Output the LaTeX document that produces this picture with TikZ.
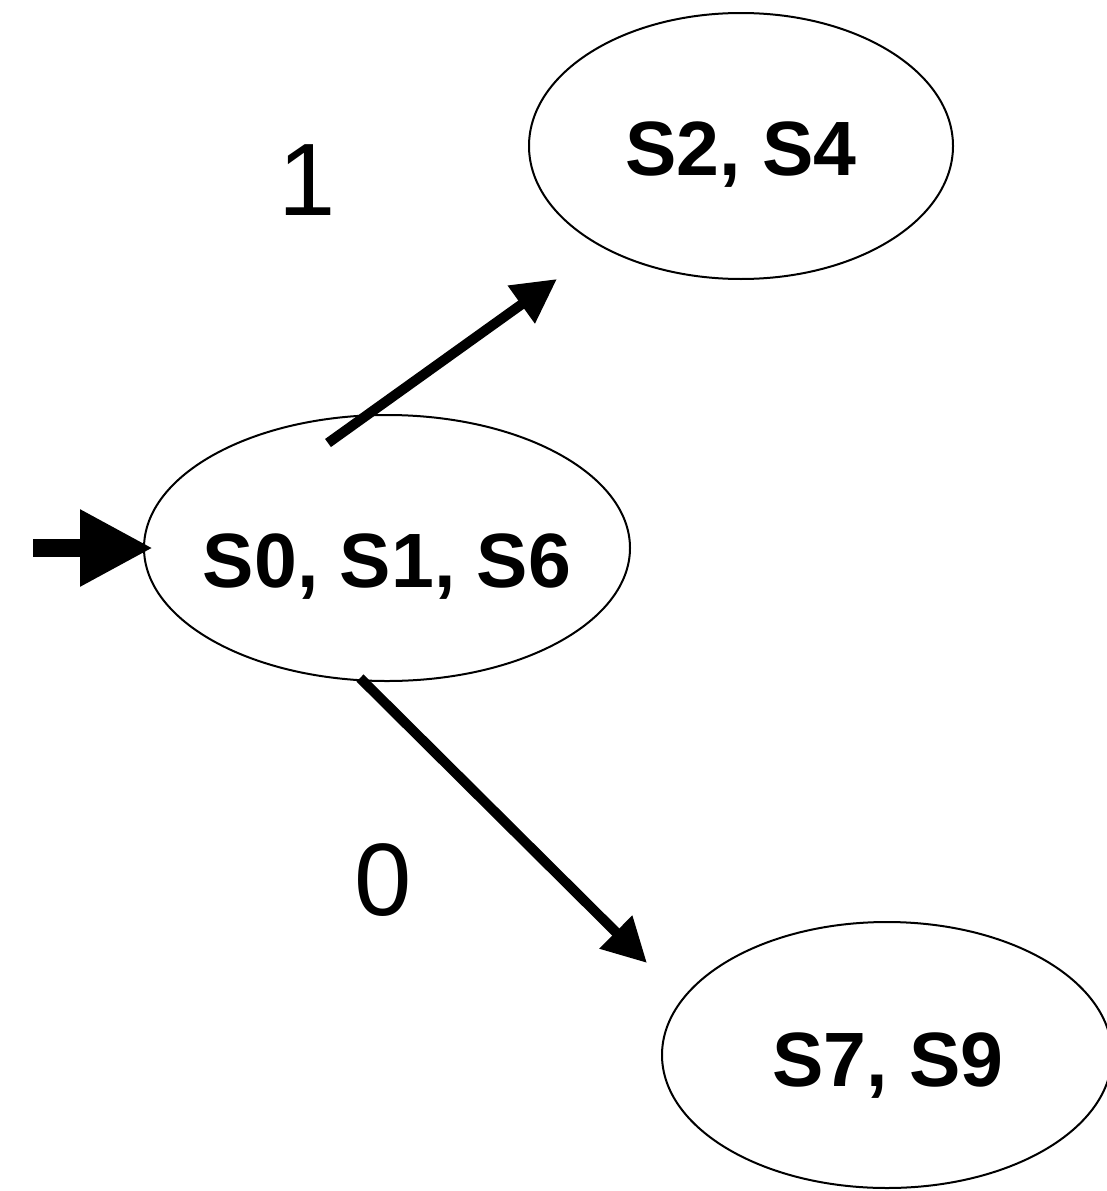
\documentclass[tikz,border=0pt]{standalone}
\usepackage{fontspec}
\setmainfont{Liberation Sans}
\usetikzlibrary{shapes.geometric,arrows.meta}

\tikzset{
  state/.style={draw, ellipse, line width=2pt, inner sep=0pt},
  statename/.style={font=\fontsize{77}{80}\selectfont\bfseries, text height=55pt, text depth=0pt, inner sep=0pt},
  edge/.style={line width=10pt, -{Triangle[length=44pt,width=44pt]}},
  sym/.style={font=\fontsize{103}{110}\selectfont}
}

\begin{document}
\begin{tikzpicture}[x=1pt, y=-1pt]

\useasboundingbox (0, 0) rectangle (1106, 1191);

\node[state, minimum width=424pt, minimum height=266pt] (s24) at (741, 146) {};
\node[state, minimum width=486pt, minimum height=266pt] (s016) at (387, 548) {};
\node[state, minimum width=450pt, minimum height=266pt] (s79) at (887, 1055) {};

\node[statename] (s24name) at (741, 148) {S2, S4};
\node[statename] (s016name) at (387, 560) {S0, S1, S6};
\node[statename] (s79name) at (888, 1059) {S7, S9};

\node[sym] (one) at (307, 180) {1};
\node[sym] (zero) at (383, 880) {0};

\coordinate (start) at (33, 548);
\coordinate (startto) at (153, 548);
\coordinate (onefrom) at (328, 443);
\coordinate (oneto) at (557, 279);
\coordinate (zerofrom) at (360, 678);
\coordinate (zeroto) at (647, 963);

\draw[line width=18pt, -{Triangle[length=73pt,width=72pt]}] (start) -- (startto);
%
\draw[edge] (onefrom) -- (oneto);
\draw[edge] (zerofrom) -- (zeroto);

\end{tikzpicture}
\end{document}
